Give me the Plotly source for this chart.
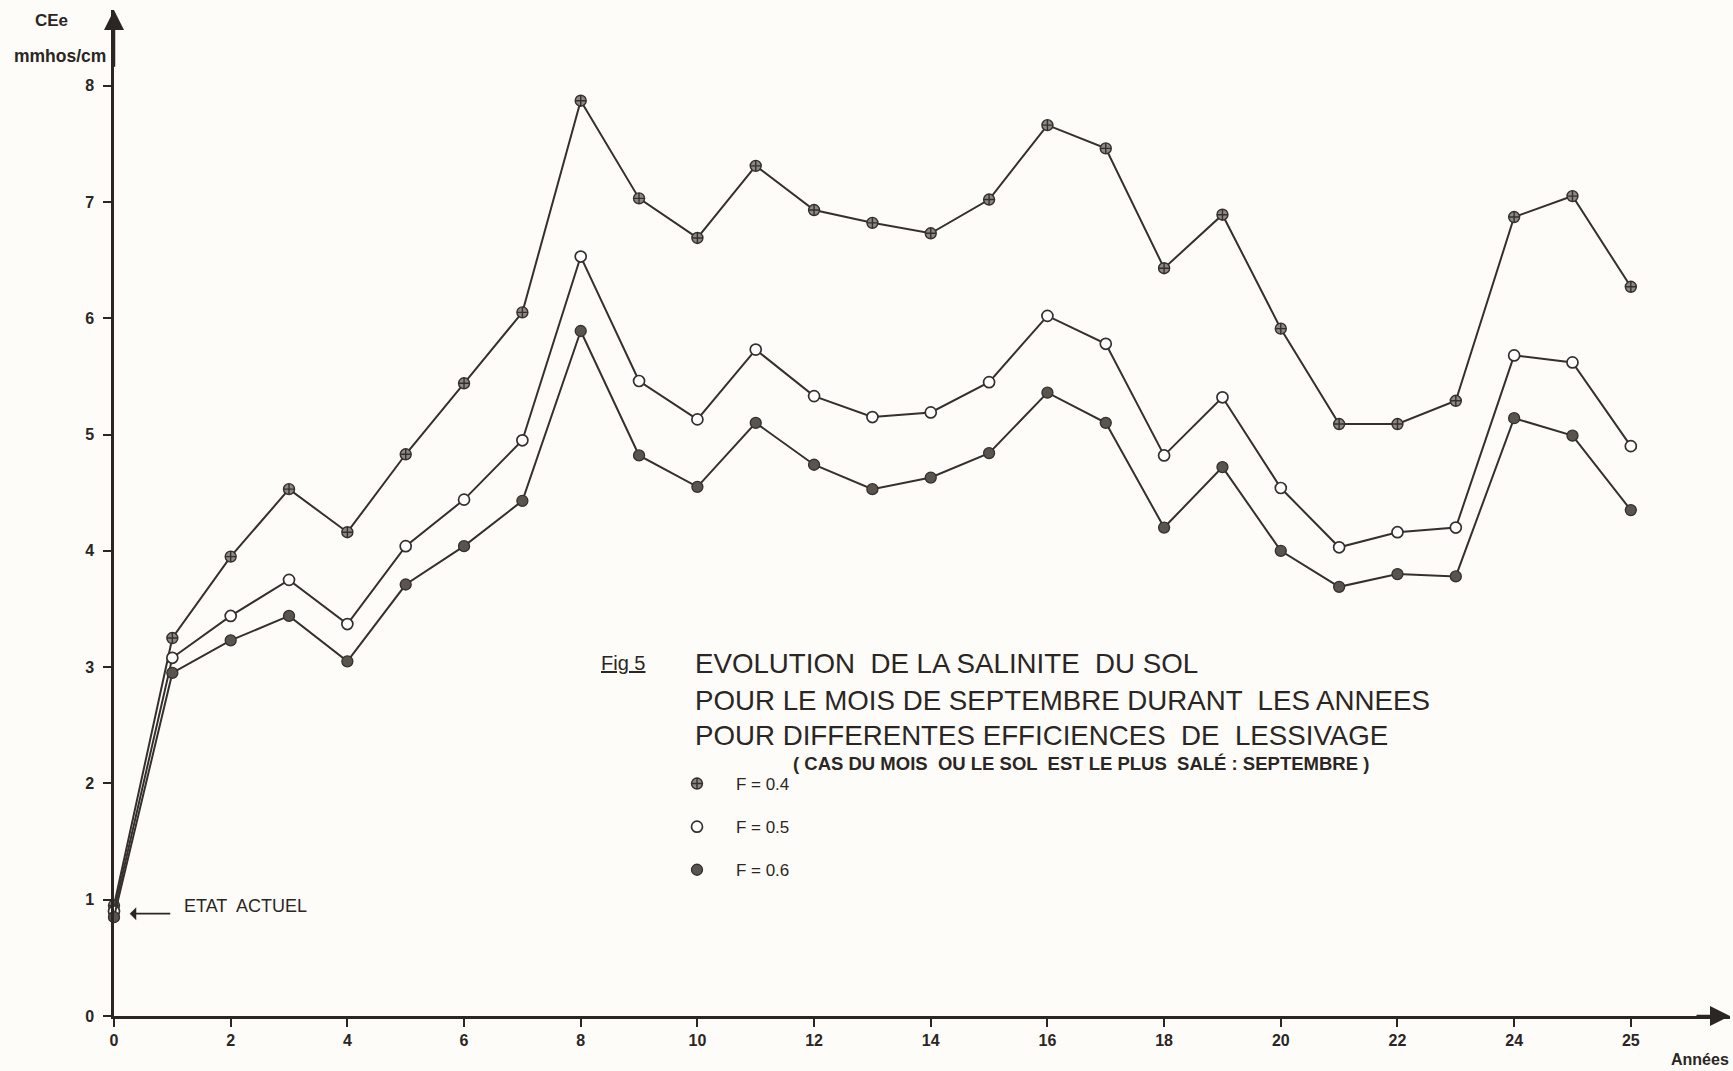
import plotly.graph_objects as go

# ---- data ----
years = list(range(0, 27))
x_tickvals = [0, 2, 4, 6, 8, 10, 12, 14, 16, 18, 20, 22, 24, 26]
x_ticktext = ["0", "2", "4", "6", "8", "10", "12", "14", "16", "18", "20", "22", "24", "25"]
y_tickvals = [0, 1, 2, 3, 4, 5, 6, 7, 8]

f04 = [0.95, 3.25, 3.95, 4.53, 4.16, 4.83, 5.44, 6.05, 7.87, 7.03, 6.69, 7.31, 6.93, 6.82,
       6.73, 7.02, 7.66, 7.46, 6.43, 6.89, 5.91, 5.09, 5.09, 5.29, 6.87, 7.05, 6.27]
f05 = [0.90, 3.08, 3.44, 3.75, 3.37, 4.04, 4.44, 4.95, 6.53, 5.46, 5.13, 5.73, 5.33, 5.15,
       5.19, 5.45, 6.02, 5.78, 4.82, 5.32, 4.54, 4.03, 4.16, 4.20, 5.68, 5.62, 4.90]
f06 = [0.85, 2.95, 3.23, 3.44, 3.05, 3.71, 4.04, 4.43, 5.89, 4.82, 4.55, 5.10, 4.74, 4.53,
       4.63, 4.84, 5.36, 5.10, 4.20, 4.72, 4.00, 3.69, 3.80, 3.78, 5.14, 4.99, 4.35]
series_names = ["F = 0.4", "F = 0.5", "F = 0.6"]

# ---- styling ----
INK = "#2b2623"
LINE = "#35302d"
FONT = "Liberation Sans"
W, H = 1733, 1071
L, R, T, B = 114, 3, 10, 55
XMAX, YMAX = 27.7, 8.65
NB = "\u00a0"


def px(x):
    return (x - L) / (W - L - R)


def py(y):
    return (H - B - y) / (H - B - T)


styles = [
    dict(symbol="circle-cross", color="#8e8883", line=dict(color="#35302d", width=1.4)),
    dict(symbol="circle", color="#ffffff", line=dict(color="#35302d", width=1.7)),
    dict(symbol="circle", color="#5a544f", line=dict(color="#35302d", width=1.3)),
]

fig = go.Figure()
for name, ys, st in zip(series_names, [f04, f05, f06], styles):
    fig.add_trace(go.Scatter(
        x=years, y=ys, mode="lines+markers", name=name, showlegend=False,
        line=dict(color=LINE, width=2),
        marker=dict(size=11, **st), cliponaxis=False,
    ))
for i, (name, st) in enumerate(zip(series_names, styles)):
    fig.add_trace(go.Scatter(
        x=[None], y=[None], mode="markers", name=NB * 4 + name, legendgroup=f"g{i}",
        marker=dict(size=11, **st),
    ))

annotations = [
    # axis arrows
    dict(x=XMAX, y=0, ax=XMAX - 0.6, ay=0, xref="x", yref="y", axref="x", ayref="y",
         showarrow=True, arrowhead=2, arrowsize=1.6, arrowwidth=2.5, arrowcolor=INK, text=""),
    dict(x=0, y=YMAX, ax=0, ay=YMAX - 0.5, xref="x", yref="y", axref="x", ayref="y",
         showarrow=True, arrowhead=2, arrowsize=1.6, arrowwidth=2.5, arrowcolor=INK, text=""),
    # axis titles
    dict(x=px(33), y=py(20), xref="paper", yref="paper", xanchor="left", yanchor="middle",
         text="<b>CEe</b>", showarrow=False, font=dict(family=FONT, size=17, color=INK)),
    dict(x=px(12), y=py(56), xref="paper", yref="paper", xanchor="left", yanchor="middle",
         text="<b>mmhos/cm</b>", showarrow=False, font=dict(family=FONT, size=17.5, color=INK)),
    dict(x=px(1731), y=py(1059), xref="paper", yref="paper", xanchor="right", yanchor="middle",
         text="<b>Années</b>", showarrow=False, font=dict(family=FONT, size=16, color=INK)),
    # current state
    dict(x=px(182), y=py(906), xref="paper", yref="paper", xanchor="left", yanchor="middle",
         text="ETAT  ACTUEL", showarrow=False, font=dict(family=FONT, size=18, color=INK)),
    dict(x=0.27, y=0.88, xref="x", yref="y", ax=42, ay=0, text="", showarrow=True,
         arrowhead=1, arrowsize=1.2, arrowwidth=1.8, arrowcolor=INK),
    # title block
    dict(x=px(599), y=py(663), xref="paper", yref="paper", xanchor="left", yanchor="middle",
         text="<u>Fig 5</u>", showarrow=False, font=dict(family=FONT, size=20, color=INK)),
    dict(x=px(693), y=py(663), xref="paper", yref="paper", xanchor="left", yanchor="middle",
         text="EVOLUTION  DE LA SALINITE  DU SOL", showarrow=False,
         font=dict(family=FONT, size=27.7, color=INK)),
    dict(x=px(693), y=py(700), xref="paper", yref="paper", xanchor="left", yanchor="middle",
         text="POUR LE MOIS DE SEPTEMBRE DURANT  LES ANNEES", showarrow=False,
         font=dict(family=FONT, size=27.7, color=INK)),
    dict(x=px(693), y=py(735), xref="paper", yref="paper", xanchor="left", yanchor="middle",
         text="POUR DIFFERENTES EFFICIENCES  DE  LESSIVAGE", showarrow=False,
         font=dict(family=FONT, size=27.7, color=INK)),
    dict(x=px(791), y=py(763), xref="paper", yref="paper", xanchor="left", yanchor="middle",
         text="<b>( CAS DU MOIS  OU LE SOL  EST LE PLUS  SALÉ : SEPTEMBRE )</b>", showarrow=False,
         font=dict(family=FONT, size=18.5, color=INK)),
]

fig.update_layout(
    width=W, height=H,
    margin=dict(l=L, r=R, t=T, b=B),
    paper_bgcolor="#fdfcf9", plot_bgcolor="#fdfcf9",
    font=dict(family=FONT, color=INK),
    showlegend=True,
    legend=dict(x=px(677), y=py(766), xanchor="left", yanchor="top",
                bgcolor="rgba(0,0,0,0)", font=dict(family=FONT, size=17, color=INK),
                tracegroupgap=18, traceorder="grouped"),
    xaxis=dict(range=[0, XMAX], tickvals=x_tickvals, ticktext=[f"<b>{t}</b>" for t in x_ticktext],
               showgrid=False, zeroline=False, showline=True, linecolor=INK, linewidth=2.5,
               ticks="outside", ticklen=8, tickwidth=2, tickcolor=INK,
               tickfont=dict(family=FONT, size=16, color=INK)),
    yaxis=dict(range=[0, YMAX], tickvals=y_tickvals,
               ticktext=[f"<b>{v}</b>" for v in y_tickvals],
               showgrid=False, zeroline=False, showline=True, linecolor=INK, linewidth=2.5,
               ticks="outside", ticklen=8, tickwidth=2, tickcolor=INK, ticklabelstandoff=6,
               tickfont=dict(family=FONT, size=16, color=INK)),
    annotations=annotations,
)

fig.write_html("out.html", config={"displayModeBar": False},
               post_script="document.body.style.margin='0';document.body.style.overflow='hidden';")
